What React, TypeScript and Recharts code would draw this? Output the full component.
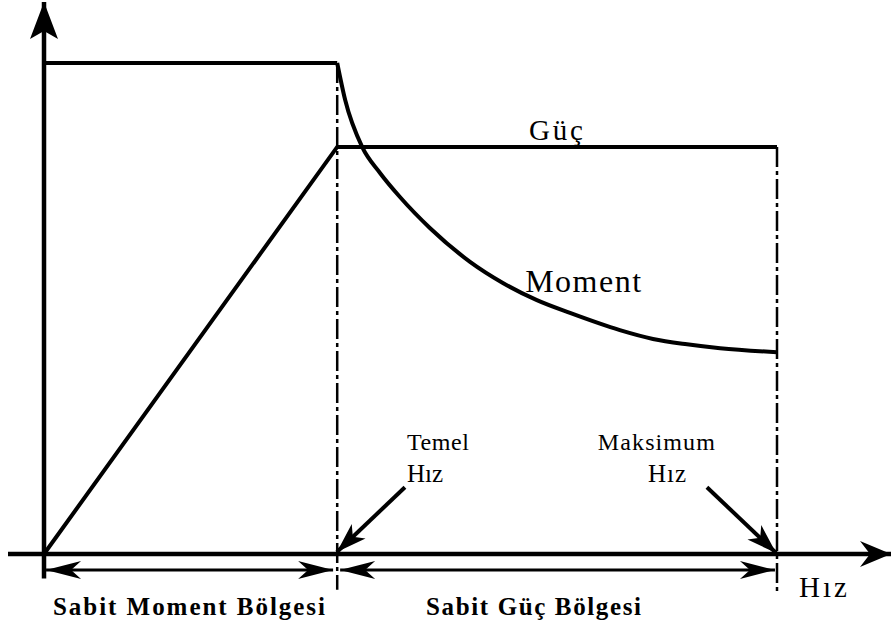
import React from 'react';
import { ComposedChart, Line, XAxis, YAxis, ReferenceLine, ReferenceDot } from 'recharts';

// speed in % of base speed, torque / power in % of rated torque
const SPEED_FLAT = [0, 100];
const TORQUE_FLAT = [100, 100];

const SPEED_CURVE = [100, 102.7, 108.5, 114.6, 121.4, 131.6, 145.3, 156.5, 168.1, 179.4, 196.4, 207.7, 219.3, 230.6, 250];
const TORQUE_CURVE = [100, 92.5, 82.9, 77.6, 72.7, 66.4, 59.5, 55.2, 51.7, 49.1, 45.6, 43.8, 42.7, 41.9, 41.1];

const SPEED_POWER = [0, 100, 250];
const POWER = [0, 82.9, 82.9];

const BASE_SPEED = 100;
const MAX_SPEED = 250;

const X_DOMAIN = [-12.28, 288.88];
const Y_DOMAIN = [-7.94, 112.42];

const FONT = '"Liberation Serif", "Times New Roman", serif';

const flatData = SPEED_FLAT.map((s, i) => ({ s, torque: TORQUE_FLAT[i] }));
const curveData = SPEED_CURVE.map((s, i) => ({ s, torque: TORQUE_CURVE[i] }));
const powerData = SPEED_POWER.map((s, i) => ({ s, power: POWER[i] }));

type Head = { len: number; half: number; notch: number };

const headPoints = (x1: number, y1: number, x2: number, y2: number, h: Head) => {
  const d = Math.hypot(x2 - x1, y2 - y1) || 1;
  const ux = (x2 - x1) / d;
  const uy = (y2 - y1) / d;
  const bx = x2 - ux * h.len;
  const by = y2 - uy * h.len;
  const nx = x2 - ux * (h.len - h.notch);
  const ny = y2 - uy * (h.len - h.notch);
  return `${x2},${y2} ${bx - uy * h.half},${by + ux * h.half} ${nx},${ny} ${bx + uy * h.half},${by - ux * h.half}`;
};

// line with arrow head at the end (and optionally at the start)
const arrowShape = (width: number, head: Head, both = false) => (props: any) => {
  const { x1, y1, x2, y2 } = props;
  return (
    <g>
      <line x1={x1} y1={y1} x2={x2} y2={y2} stroke="#000" strokeWidth={width} />
      <polygon points={headPoints(x1, y1, x2, y2, head)} fill="#000" />
      {both && <polygon points={headPoints(x2, y2, x1, y1, head)} fill="#000" />}
    </g>
  );
};

const textShape = (text: string, size: number, length: number, bold = false) => (props: any) => (
  <text
    x={props.cx}
    y={props.cy}
    style={{ fontFamily: FONT }}
    fontSize={size}
    fontWeight={bold ? 'bold' : 'normal'}
    textLength={length}
    lengthAdjust="spacing"
    fill="#000"
  >
    {text}
  </text>
);

const labels = [
  { text: 'Güç', x: 165.4, y: 84.3, size: 29, len: 54 },
  { text: 'Moment', x: 164.1, y: 53.4, size: 32, len: 116 },
  { text: 'Temel', x: 123.8, y: 21.2, size: 24, len: 62 },
  { text: 'Hız', x: 123.8, y: 14.7, size: 25, len: 36 },
  { text: 'Maksimum', x: 188.9, y: 21.2, size: 24, len: 117 },
  { text: 'Hız', x: 206.0, y: 14.7, size: 25, len: 38 },
  { text: 'Hız', x: 257.5, y: -8.76, size: 29, len: 48 },
  { text: 'Sabit Moment Bölgesi', x: 3.07, y: -12.42, size: 25, len: 272, bold: true },
  { text: 'Sabit Güç Bölgesi', x: 130.3, y: -12.42, size: 25, len: 215, bold: true },
];

const App = () => {
  return (
    <div style={{ position: 'absolute', left: 0, top: 0, width: 893, height: 632, background: '#fff' }}>
      <ComposedChart width={893} height={632} margin={{ top: 2, right: 2, left: 8, bottom: 39 }}>
        <XAxis dataKey="s" type="number" domain={X_DOMAIN} hide allowDataOverflow />
        <YAxis type="number" domain={Y_DOMAIN} hide allowDataOverflow />

        {/* axes */}
        <ReferenceLine
          ifOverflow="visible"
          segment={[{ x: X_DOMAIN[0], y: 0 }, { x: X_DOMAIN[1], y: 0 }]}
          shape={arrowShape(4.5, { len: 31, half: 13, notch: 10 })}
        />
        <ReferenceLine
          ifOverflow="visible"
          segment={[{ x: 0, y: -5 }, { x: 0, y: Y_DOMAIN[1] }]}
          shape={arrowShape(4.5, { len: 37, half: 14, notch: 8 })}
        />

        {/* region borders */}
        <ReferenceLine
          ifOverflow="visible"
          segment={[{ x: BASE_SPEED, y: 100 }, { x: BASE_SPEED, y: -7.3 }]}
          stroke="#000"
          strokeWidth={2.5}
          strokeDasharray="20 4 4 4"
        />
        <ReferenceLine
          ifOverflow="visible"
          segment={[{ x: MAX_SPEED, y: 82.9 }, { x: MAX_SPEED, y: -7.9 }]}
          stroke="#000"
          strokeWidth={2.5}
          strokeDasharray="20 4 4 4"
        />

        {/* region spans */}
        <ReferenceLine
          ifOverflow="visible"
          segment={[{ x: 0.7, y: -3.26 }, { x: 98.6, y: -3.26 }]}
          shape={arrowShape(3, { len: 35, half: 9, notch: 10 }, true)}
        />
        <ReferenceLine
          ifOverflow="visible"
          segment={[{ x: 101, y: -3.26 }, { x: 249.3, y: -3.26 }]}
          shape={arrowShape(3, { len: 35, half: 9, notch: 10 }, true)}
        />

        {/* pointers */}
        <ReferenceLine
          ifOverflow="visible"
          segment={[{ x: 123.1, y: 13.6 }, { x: 99.9, y: 0.4 }]}
          shape={arrowShape(4, { len: 30, half: 10, notch: 8 })}
        />
        <ReferenceLine
          ifOverflow="visible"
          segment={[{ x: 226.1, y: 13.6 }, { x: 249.7, y: 0.2 }]}
          shape={arrowShape(4, { len: 30, half: 10, notch: 8 })}
        />

        <Line data={flatData} dataKey="torque" type="linear" stroke="#000" strokeWidth={4} dot={false} isAnimationActive={false} />
        <Line data={curveData} dataKey="torque" type="monotone" stroke="#000" strokeWidth={4} dot={false} isAnimationActive={false} />
        <Line data={powerData} dataKey="power" type="linear" stroke="#000" strokeWidth={4} dot={false} isAnimationActive={false} />

        {labels.map((l, i) => (
          <ReferenceDot
            key={i}
            ifOverflow="visible"
            x={l.x}
            y={l.y}
            r={0}
            shape={textShape(l.text, l.size, l.len, l.bold)}
          />
        ))}
      </ComposedChart>
    </div>
  );
};

export default App;
